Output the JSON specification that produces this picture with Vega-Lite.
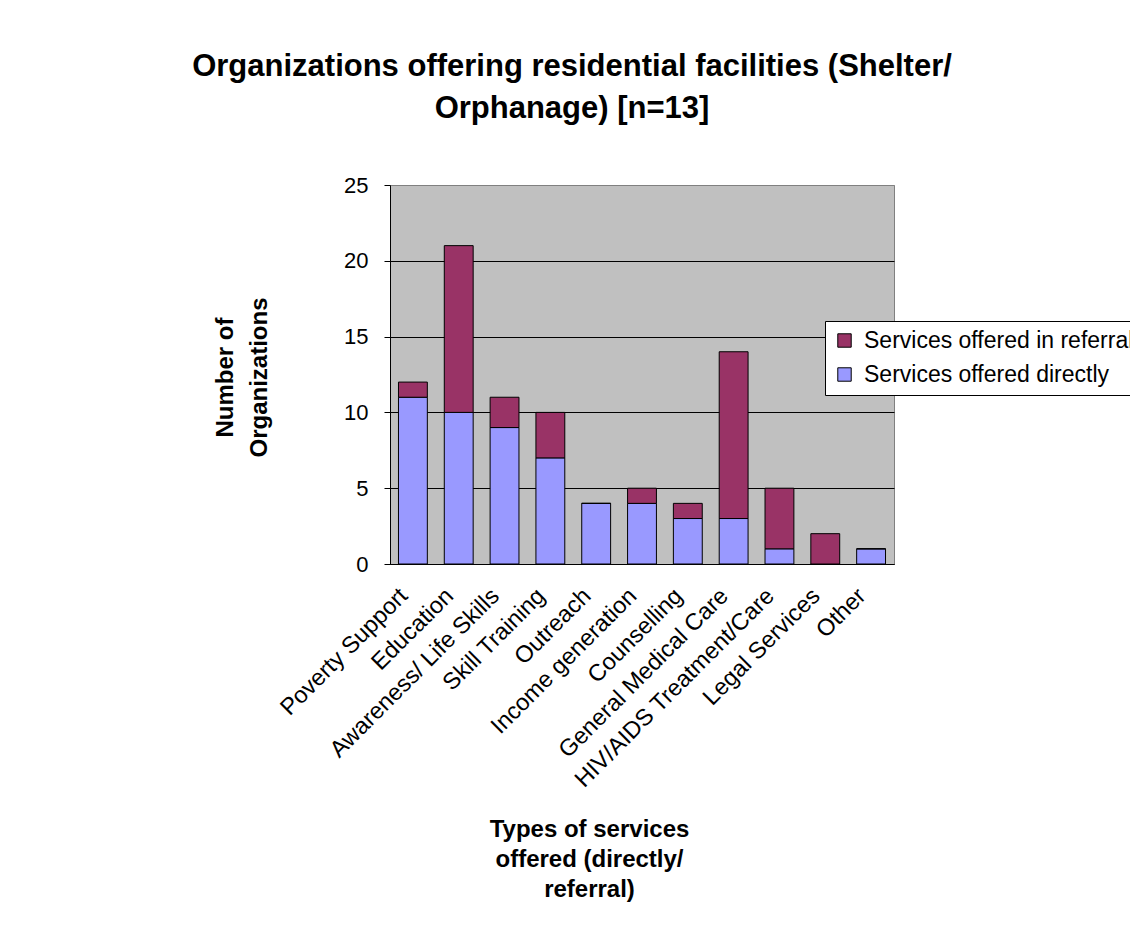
{
  "$schema": "https://vega.github.io/schema/vega-lite/v6.json",
  "autosize": {"type": "none"},
  "padding": {"left": 390, "top": 185, "right": 236, "bottom": 366},
  "width": 504,
  "height": 379,
  "background": "white",
  "title": {
    "text": ["Organizations offering residential facilities (Shelter/", "Orphanage) [n=13]"],
    "anchor": "middle",
    "frame": "group",
    "dx": -70,
    "offset": 49,
    "font": "Liberation Sans",
    "fontSize": 31,
    "fontWeight": "bold",
    "lineHeight": 42,
    "color": "black"
  },
  "data": {
    "values": [
      {"service": "Poverty Support", "type": "Services offered directly", "count": 11},
      {"service": "Poverty Support", "type": "Services offered in referral", "count": 1},
      {"service": "Education", "type": "Services offered directly", "count": 10},
      {"service": "Education", "type": "Services offered in referral", "count": 11},
      {"service": "Awareness/ Life Skills", "type": "Services offered directly", "count": 9},
      {"service": "Awareness/ Life Skills", "type": "Services offered in referral", "count": 2},
      {"service": "Skill Training", "type": "Services offered directly", "count": 7},
      {"service": "Skill Training", "type": "Services offered in referral", "count": 3},
      {"service": "Outreach", "type": "Services offered directly", "count": 4},
      {"service": "Outreach", "type": "Services offered in referral", "count": 0},
      {"service": "Income generation", "type": "Services offered directly", "count": 4},
      {"service": "Income generation", "type": "Services offered in referral", "count": 1},
      {"service": "Counselling", "type": "Services offered directly", "count": 3},
      {"service": "Counselling", "type": "Services offered in referral", "count": 1},
      {"service": "General Medical Care", "type": "Services offered directly", "count": 3},
      {"service": "General Medical Care", "type": "Services offered in referral", "count": 11},
      {"service": "HIV/AIDS Treatment/Care", "type": "Services offered directly", "count": 1},
      {"service": "HIV/AIDS Treatment/Care", "type": "Services offered in referral", "count": 4},
      {"service": "Legal Services", "type": "Services offered directly", "count": 0},
      {"service": "Legal Services", "type": "Services offered in referral", "count": 2},
      {"service": "Other", "type": "Services offered directly", "count": 1},
      {"service": "Other", "type": "Services offered in referral", "count": 0}
    ]
  },
  "mark": {"type": "bar", "stroke": "black", "strokeWidth": 1},
  "encoding": {
    "x": {
      "field": "service",
      "type": "nominal",
      "sort": null,
      "scale": {"paddingInner": 0.37, "paddingOuter": 0.185},
      "axis": {
        "title": ["Types of services", "offered (directly/", "referral)"],
        "titleX": 199,
        "titleY": 253,
        "titleAlign": "center",
        "titleBaseline": "top",
        "titleLineHeight": 30,
        "titleFontSize": 24,
        "titleFontWeight": "bold",
        "labelAngle": -45,
        "labelAlign": "right",
        "labelBaseline": "middle",
        "labelFontSize": 23.5,
        "labelPadding": 28,
        "labelOffset": -9,
        "labelLimit": 400,
        "ticks": false,
        "domainColor": "black"
      }
    },
    "y": {
      "field": "count",
      "type": "quantitative",
      "stack": "zero",
      "scale": {"domain": [0, 25]},
      "axis": {
        "values": [0, 5, 10, 15, 20, 25],
        "title": ["Number of", "Organizations"],
        "titleX": -165,
        "titleY": 192,
        "titleAlign": "center",
        "titleBaseline": "middle",
        "titleAngle": -90,
        "titleLineHeight": 34,
        "titleFontSize": 24,
        "titleFontWeight": "bold",
        "labelFontSize": 22,
        "labelPadding": 16,
        "tickSize": 6,
        "tickColor": "black",
        "domainColor": "black",
        "gridColor": {"condition": {"test": "datum.value === 25", "value": "#808080"}, "value": "black"},
        "gridOpacity": 1
      }
    },
    "color": {
      "field": "type",
      "type": "nominal",
      "scale": {
        "domain": ["Services offered in referral", "Services offered directly"],
        "range": ["#993366", "#9999FF"]
      },
      "legend": {
        "title": null,
        "orient": "none",
        "legendX": 435,
        "legendY": 136,
        "fillColor": "white",
        "strokeColor": "black",
        "padding": 8,
        "symbolType": "square",
        "symbolSize": 180,
        "symbolStrokeColor": "black",
        "symbolStrokeWidth": 1,
        "symbolOpacity": 1,
        "labelFontSize": 23,
        "labelLimit": 600,
        "labelOffset": 8,
        "rowPadding": 10
      }
    },
    "order": {"field": "type", "sort": "ascending"}
  },
  "config": {
    "font": "Liberation Sans",
    "view": {"fill": "#C0C0C0", "stroke": "#808080"},
    "axis": {"labelColor": "black", "titleColor": "black", "domainWidth": 1, "gridWidth": 1},
    "legend": {"labelColor": "black"}
  }
}
